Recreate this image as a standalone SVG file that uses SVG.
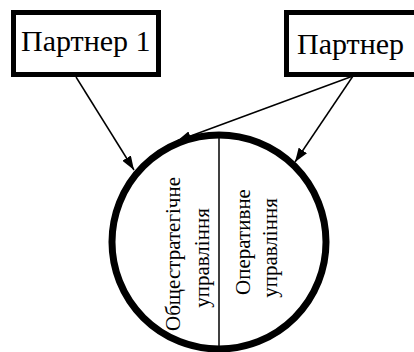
<svg xmlns="http://www.w3.org/2000/svg" width="414" height="352" viewBox="0 0 414 352">
<style>
.box{fill:#fff;stroke:#000;stroke-width:5}
.t{font-family:'Liberation Serif','DejaVu Serif',serif;fill:#000}
.conn{stroke:#000;stroke-width:1.5;fill:none}
</style>
<defs>
<marker id="arr" markerWidth="14" markerHeight="10" refX="14" refY="5" orient="auto" markerUnits="userSpaceOnUse">
<path d="M0,0 L14,5 L0,10 z" fill="#000"/>
</marker>
</defs>
<rect width="414" height="352" fill="#fff"/>
<g id="partner1">
<rect class="box" x="13.5" y="12.5" width="145" height="62"/>
<text class="t" x="21" y="51" font-size="30">Партнер 1</text>
</g>
<g id="partner2">
<rect class="box" x="286.5" y="12.5" width="140" height="62"/>
<text class="t" x="297" y="54" font-size="30">Партнер</text>
</g>
<g id="management">
<circle cx="219" cy="242" r="107" fill="#fff" stroke="#000" stroke-width="7"/>
<line x1="219" y1="136" x2="219" y2="349" stroke="#000" stroke-width="1.5"/>
<text class="t" font-size="21" text-anchor="middle" transform="translate(180,254) rotate(-90)">Общестратегічне</text>
<text class="t" font-size="21" text-anchor="middle" transform="translate(209,258) rotate(-90)">управління</text>
<text class="t" font-size="21" text-anchor="middle" transform="translate(250,242) rotate(-90)">Оперативне</text>
<text class="t" font-size="21" text-anchor="middle" transform="translate(277,248) rotate(-90)">управління</text>
</g>
<g id="connectors">
<line class="conn" x1="76" y1="77" x2="134" y2="170" marker-end="url(#arr)"/>
<line class="conn" x1="353" y1="76" x2="177" y2="141" marker-end="url(#arr)"/>
<line class="conn" x1="353" y1="76" x2="295" y2="162" marker-end="url(#arr)"/>
</g>
</svg>
